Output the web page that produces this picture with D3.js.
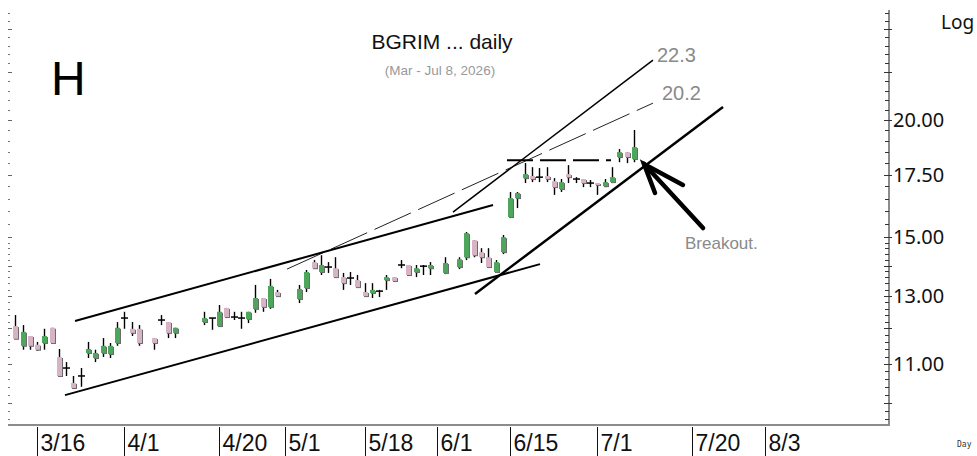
<!DOCTYPE html>
<html>
<head>
<meta charset="utf-8">
<script src="https://cdn.jsdelivr.net/npm/d3@7/dist/d3.min.js"></script>
<style>
	body { margin: 0; background: #fff; }
	svg { display: block; }
</style>
</head>
<body>
<svg id="chart" width="977" height="456"></svg>
<script>
// daily candles, Mar 11 - Jul 8 2026 (holidays are simply missing)
var dates = ['3/11','3/12','3/13','3/16','3/17','3/18','3/19','3/20','3/23','3/24','3/25','3/26','3/27','3/30','3/31',
	'4/1','4/2','4/3','4/7','4/8','4/9','4/10','4/16','4/17','4/20','4/21','4/22','4/23','4/24','4/27','4/28','4/29','4/30',
	'5/5','5/6','5/7','5/8','5/11','5/12','5/13','5/14','5/15','5/18','5/19','5/20','5/21','5/22','5/25','5/26','5/27','5/28','5/29',
	'6/2','6/4','6/5','6/8','6/9','6/10','6/11','6/12','6/15','6/16','6/17','6/18','6/19','6/22','6/23','6/24','6/25','6/26','6/29','6/30',
	'7/1','7/2','7/3','7/6','7/7','7/8'];
var opens = [12.07,11.50,11.78,11.53,11.58,12.02,11.19,10.89,10.50,10.68,11.30,11.16,11.30,11.27,11.58,
	12.31,11.99,11.99,11.72,12.25,12.19,11.87,12.19,12.31,12.07,12.62,12.34,12.31,12.28,12.59,12.93,12.65,13.12,
	12.90,13.25,14.12,13.78,13.95,13.91,13.61,13.58,13.51,13.12,13.09,13.15,13.51,13.61,14.02,14.02,13.78,13.98,13.91,
	13.75,13.95,14.29,14.90,14.47,14.29,13.78,14.47,15.77,16.52,17.35,17.44,17.39,17.44,17.22,16.89,17.52,17.31,17.31,17.14,
	17.14,17.01,17.18,18.27,18.49,18.18];
var highs = [12.40,12.10,11.78,11.61,11.99,12.02,11.41,11.05,10.68,10.89,11.61,11.39,11.72,11.58,12.19,
	12.50,12.19,12.10,11.72,12.40,12.19,12.02,12.50,12.31,12.71,12.62,12.50,12.50,12.50,13.35,12.93,13.55,13.19,
	13.35,13.85,14.19,14.36,14.12,14.29,13.75,13.78,13.68,13.41,13.41,13.19,13.68,13.61,14.19,14.02,14.02,14.02,14.12,
	14.29,14.29,15.20,14.90,14.61,14.61,14.19,15.09,16.77,16.77,18.00,17.82,17.78,17.82,17.35,17.31,17.91,17.39,17.31,17.27,
	17.14,17.31,17.82,18.63,18.49,19.52];
var lows = [11.70,11.39,11.39,11.36,11.39,11.58,10.68,10.68,10.37,10.40,11.16,11.05,11.19,11.16,11.50,
	11.99,11.78,11.50,11.39,12.10,11.72,11.72,12.10,11.96,12.05,12.31,12.25,11.99,12.16,12.47,12.50,12.59,12.99,
	12.77,13.12,13.91,13.68,13.75,13.61,13.19,13.35,13.28,12.99,12.93,12.96,13.19,13.45,13.91,13.68,13.61,13.68,13.68,
	13.71,13.88,14.19,14.29,14.09,13.95,13.75,14.40,15.73,16.12,17.14,17.18,17.18,17.18,16.65,16.77,17.14,17.14,16.97,16.97,
	16.65,16.97,17.14,18.04,18.00,18.04];
var closes = [11.70,11.90,11.50,11.39,11.78,11.58,10.68,10.89,10.37,10.68,11.41,11.30,11.50,11.50,12.02,
	12.31,11.87,11.58,11.58,12.25,11.87,12.02,12.31,12.31,12.50,12.34,12.34,12.31,12.50,12.93,12.65,13.32,12.99,
	13.22,13.78,13.91,14.02,13.95,13.61,13.41,13.58,13.28,12.99,13.19,13.15,13.61,13.48,14.02,13.68,13.91,13.98,14.02,
	14.09,14.22,15.16,14.36,14.29,13.95,14.12,15.01,16.52,16.73,17.52,17.31,17.39,17.31,16.97,17.18,17.39,17.31,17.14,17.14,
	17.06,17.18,17.39,18.49,18.27,18.72];

var tickLabels = ['3/16','4/1','4/20','5/1','5/18','6/1','6/15','7/1','7/20','8/3'];
var priceLabels = [20, 17.5, 15, 13, 11];
var majorTicks = [25, 22.5, 20, 17.5, 15, 14, 13, 12, 11, 10];

// drawn lines, [day number, price] with day 0 = 3/10
var channelTop = [[9.21, 12.22], [66.65, 16.24]];
var channelBottom = [[7.83, 10.19], [73.10, 14.05]];
var steepBottom = [[64.17, 13.06], [98.25, 20.65]];
var steepTop = [[61.15, 15.96], [88.63, 23.17]];
var projection = [[38.34, 13.88], [88.63, 20.85]];
var resistance = [[68.57, 18.13], [82.86, 18.13]];
var arrowShaft = [[95.51, 15.35], [87.40, 17.96]];
var arrowHead = [[88.91, 16.73], [87.40, 17.96], [92.75, 17.06]];

(function () {
	'use strict';

	// trading calendar: weekdays from 3/10
	var calendar = [];
	var d0 = new Date(2026, 2, 10);
	while (d0.getMonth() < 8) {
		if (d0.getDay() !== 0 && d0.getDay() !== 6) {
			calendar.push((d0.getMonth() + 1) + '/' + d0.getDate());
		}
		d0.setDate(d0.getDate() + 1);
	}
	function dayNo(label){
		return calendar.indexOf(label);
	}

	var svg = d3.select('#chart');
	var plotLeft = 8, plotRight = 889, plotTop = 10, plotBottom = 425;

	var x = d3.scaleLinear().domain([0, 121.2]).range([plotLeft, 890]);
	var y = d3.scaleLog().domain([9.47, 26.2]).range([plotBottom, plotTop]);

	var line = d3.line()
		.x(function(d){ return x(d[0]); })
		.y(function(d){ return y(d[1]); });

	// frame
	svg.append('line').attr('x1', plotLeft).attr('x2', plotRight + 1).attr('y1', plotBottom).attr('y2', plotBottom)
		.attr('stroke', '#8c8c8c').attr('stroke-width', 2);
	svg.append('line').attr('x1', plotRight).attr('x2', plotRight).attr('y1', plotTop).attr('y2', plotBottom)
		.attr('stroke', '#8c8c8c').attr('stroke-width', 2);

	// minor ticks on both sides
	var minor = d3.range(9.6, 14.95, 0.2).concat(d3.range(15.5, 26.1, 0.5));
	minor.forEach(function(v){
		var yy = Math.round(y(v)) + 0.5;
		svg.append('line').attr('x1', plotRight - 4).attr('x2', plotRight).attr('y1', yy).attr('y2', yy)
			.attr('stroke', '#333').attr('stroke-width', 1);
		svg.append('line').attr('x1', plotLeft).attr('x2', plotLeft + 2).attr('y1', yy).attr('y2', yy)
			.attr('stroke', '#777').attr('stroke-width', 1);
	});
	majorTicks.forEach(function(v){
		var yy = Math.round(y(v)) + 0.5;
		svg.append('line').attr('x1', plotRight - 5).attr('x2', plotRight + 3).attr('y1', yy).attr('y2', yy)
			.attr('stroke', '#333').attr('stroke-width', 1);
		svg.append('line').attr('x1', plotLeft).attr('x2', plotLeft + 4).attr('y1', yy).attr('y2', yy)
			.attr('stroke', '#666').attr('stroke-width', 1);
	});

	// price labels
	svg.append('g').selectAll('text').data(priceLabels).enter().append('text')
		.attr('x', 893).attr('y', function(d){ return y(d) + 7; })
		.attr('font-family', 'Noto Sans, sans-serif').attr('font-size', 20).attr('fill', '#111')
		.text(function(d){ return d.toFixed(2); });

	svg.append('text').attr('x', 941).attr('y', 29).attr('font-family', 'Noto Sans, sans-serif')
		.attr('font-size', 19).attr('fill', '#111').text('Log');
	svg.append('text').attr('x', 957).attr('y', 447).attr('font-family', 'DejaVu Sans Mono, monospace')
		.attr('font-size', 8).attr('fill', '#333').text('Day');

	// date separators and labels
	var dateTicks = svg.append('g').selectAll('g').data(tickLabels).enter().append('g')
		.attr('transform', function(d){ return 'translate(' + (Math.round(x(dayNo(d))) + 0.5) + ',0)'; });
	dateTicks.append('line').attr('y1', plotBottom + 2).attr('y2', 456).attr('stroke', '#111').attr('stroke-width', 1);
	dateTicks.append('text').attr('x', 3).attr('y', 451)
		.attr('font-family', 'Liberation Sans Narrow, Arial Narrow, sans-serif').attr('font-size', 23).attr('fill', '#111')
		.text(function(d){ return d; });

	// trend lines
	function drawLine(pts, width, dash, colour){
		var p = svg.append('path').datum(pts).attr('d', line).attr('fill', 'none')
			.attr('stroke', colour || '#000').attr('stroke-width', width);
		if (dash) { p.attr('stroke-dasharray', dash); }
		return p;
	}
	drawLine(projection, 1, '40,8', '#222');
	drawLine(channelTop, 2);
	drawLine(channelBottom, 2);
	drawLine(steepTop, 1.5);
	drawLine(steepBottom, 2.5);
	drawLine(resistance, 2, '26,7');

	// candles
	var candles = dates.map(function(d, i){
		return {day: dayNo(d), o: opens[i], h: highs[i], l: lows[i], c: closes[i]};
	});
	var bw = 5;
	var cg = svg.append('g');
	candles.forEach(function(d){
		var cx = Math.round(x(d.day));
		var yt = y(Math.max(d.o, d.c)), yb = y(Math.min(d.o, d.c));
		cg.append('line').attr('x1', cx + 0.5).attr('x2', cx + 0.5).attr('y1', y(d.h)).attr('y2', y(d.l))
			.attr('stroke', '#000').attr('stroke-width', 1.4);
		if (d.o === d.c) {
			cg.append('line').attr('x1', cx - 3).attr('x2', cx + 4).attr('y1', yt).attr('y2', yt)
				.attr('stroke', '#000').attr('stroke-width', 1.5);
			return;
		}
		var up = d.c > d.o;
		cg.append('rect').attr('x', cx - 1).attr('y', yt + 1).attr('width', bw).attr('height', Math.max(1.5, yb - yt))
			.attr('fill', '#6b6b6b');
		cg.append('rect').attr('x', cx - 2).attr('y', yt).attr('width', bw).attr('height', Math.max(1.5, yb - yt))
			.attr('fill', up ? '#4ea65c' : '#d6b4c6');
	});

	// arrow
	drawLine(arrowShaft, 4.5).attr('stroke-linecap', 'round');
	drawLine(arrowHead, 4.5).attr('stroke-linejoin', 'miter').attr('stroke-linecap', 'round');

	// annotations
	svg.append('text').attr('x', x(steepTop[1][0]) + 4).attr('y', y(steepTop[1][1]) + 2)
		.attr('font-family', 'Liberation Sans, Arial, sans-serif').attr('font-size', 20).attr('fill', '#8a8a8a').text('22.3');
	svg.append('text').attr('x', x(projection[1][0]) + 9).attr('y', y(projection[1][1]) - 3)
		.attr('font-family', 'Liberation Sans, Arial, sans-serif').attr('font-size', 20).attr('fill', '#8a8a8a').text('20.2');
	svg.append('text').attr('x', 685).attr('y', 249)
		.attr('font-family', 'Liberation Sans, Arial, sans-serif').attr('font-size', 17).attr('fill', '#8a8a8a').text('Breakout.');

	svg.append('text').attr('x', 442).attr('y', 49).attr('text-anchor', 'middle')
		.attr('font-family', 'Liberation Sans, Arial, sans-serif').attr('font-size', 21).attr('fill', '#111').text('BGRIM ... daily');
	svg.append('text').attr('x', 440).attr('y', 75).attr('text-anchor', 'middle')
		.attr('font-family', 'Liberation Sans, Arial, sans-serif').attr('font-size', 13.5).attr('fill', '#999').text('(Mar - Jul 8, 2026)');
	svg.append('text').attr('x', 51).attr('y', 95)
		.attr('font-family', 'Liberation Sans, Arial, sans-serif').attr('font-size', 48).attr('fill', '#000').text('H');
})();
</script>
</body>
</html>
